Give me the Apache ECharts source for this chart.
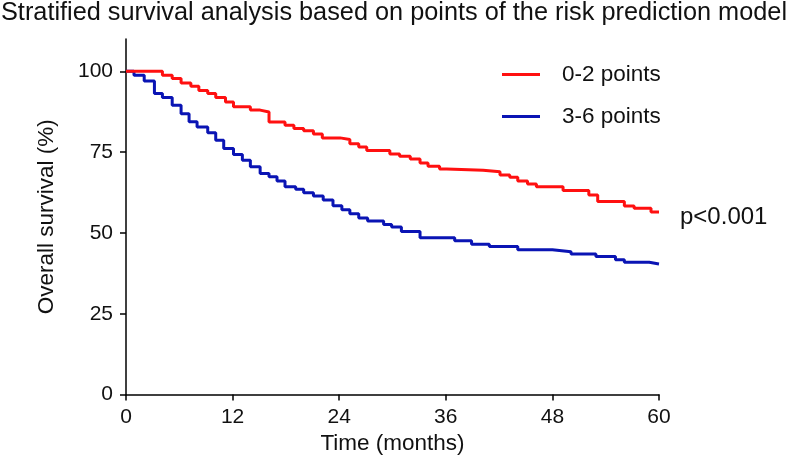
<!DOCTYPE html>
<html>
<head>
<meta charset="utf-8">
<script src="https://cdn.jsdelivr.net/npm/echarts@6/dist/echarts.min.js"></script>
<style>html,body{margin:0;padding:0;background:#fff}#c{width:788px;height:468px}</style>
</head>
<body>
<div id="c"></div>
<script>
var titleText = "Stratified survival analysis based on points of the risk prediction model";
var seriesNames = ["0-2 points", "3-6 points"];
var pValueText = "p<0.001";
var xTicks = [0, 12, 24, 36, 48, 60];
var yTicks = [0, 25, 50, 75, 100];

var lowTime = [0, 4.1, 5.2, 6.2, 7.3, 8.2, 9.2, 10.1, 11.2, 12.1, 14.0, 15.1, 16.1, 17.9, 18.9, 20.0, 21.1, 22.1, 24.1, 25.2, 26.2, 27.1, 29.7, 30.8, 32.0, 33.1, 34.0, 35.3, 36.1, 40.2, 42.1, 43.2, 44.1, 45.2, 46.2, 49.2, 52.1, 53.1, 56.1, 57.2, 59.1, 60];
var lowSurv = [100, 98.8, 97.8, 96.4, 95.4, 94.1, 93.1, 91.9, 90.5, 89.0, 88.0, 87.4, 84.3, 83.3, 82.3, 81.6, 80.6, 79.4, 78.9, 77.6, 76.6, 75.5, 74.4, 73.7, 72.9, 71.6, 70.6, 69.8, 69.4, 68.9, 67.9, 67.2, 66.1, 65.1, 64.3, 63.1, 61.7, 59.7, 58.3, 57.6, 56.5, 56.5];

var highTime = [0, 0.9, 2.05, 3.2, 4.1, 5.2, 6.2, 7.1, 8.0, 9.2, 10.1, 11.0, 12.1, 13.1, 14.0, 15.1, 16.1, 17.0, 17.9, 19.1, 20.0, 21.1, 22.2, 23.3, 24.3, 25.2, 26.2, 27.2, 29.0, 29.9, 31.0, 33.1, 37.0, 38.9, 40.9, 44.1, 48.0, 50.1, 52.9, 55.1, 56.1, 58.9, 60];
var highSurv = [100, 98.8, 97.0, 93.1, 91.9, 89.5, 86.9, 84.4, 82.8, 81.0, 78.7, 76.1, 74.3, 72.5, 70.5, 68.4, 67.4, 66.1, 64.3, 63.5, 62.4, 61.4, 60.2, 58.4, 57.2, 55.9, 54.6, 53.7, 52.6, 51.8, 50.4, 48.5, 47.6, 46.5, 45.8, 44.8, 44.2, 43.5, 42.7, 41.7, 40.9, 40.4, 40.4];

function pairs(t, s) { return t.map(function (v, i) { return [v, s[i]]; }); }

var font = "Liberation Sans, Arial, sans-serif";
var chart = echarts.init(document.getElementById('c'), null, {renderer: 'canvas'});
chart.setOption({
  backgroundColor: '#fff',
  animation: false,
  title: {
    text: titleText, left: 0, top: 0, padding: [1, 1],
    textStyle: {fontFamily: font, fontSize: 25.3, fontWeight: 'normal', color: '#111'}
  },
  legend: {
    orient: 'vertical', left: 502, top: 63, itemGap: 19, padding: 0,
    icon: 'rect', itemWidth: 38, itemHeight: 3,
    data: [seriesNames[0], seriesNames[1]],
    textStyle: {fontFamily: font, fontSize: 22.5, color: '#111', padding: [0, 0, 0, 17]}
  },
  grid: {left: 126, right: 129, top: 39, bottom: 73.5, outerBoundsMode: 'none', containLabel: false},
  xAxis: {
    type: 'value', min: 0, max: 60, interval: 12,
    name: 'Time (months)', nameLocation: 'middle', nameGap: 34,
    nameTextStyle: {fontFamily: font, fontSize: 22.5, color: '#111', verticalAlign: 'top'},
    axisLine: {lineStyle: {color: '#000', width: 1.5}},
    axisTick: {length: 6, lineStyle: {color: '#000', width: 1.5}},
    axisLabel: {fontFamily: font, fontSize: 21, color: '#111', margin: 12, customValues: xTicks},
    splitLine: {show: false}
  },
  yAxis: {
    type: 'value', min: 0, max: 110,
    name: 'Overall survival (%)', nameLocation: 'middle', nameGap: 68, nameRotate: 90,
    nameTextStyle: {fontFamily: font, fontSize: 22.5, color: '#111'},
    axisLine: {lineStyle: {color: '#000', width: 1.5}},
    axisTick: {length: 6, lineStyle: {color: '#000', width: 1.5}, customValues: yTicks},
    axisLabel: {fontFamily: font, fontSize: 21, color: '#111', margin: 13, customValues: yTicks},
    splitLine: {show: false}
  },
  graphic: [{
    type: 'text', left: 680, top: 205,
    style: {text: pValueText, fontFamily: font, fontSize: 24, fill: '#111'}
  }],
  series: [
    {
      name: seriesNames[1], type: 'line', step: 'end', showSymbol: false,
      data: pairs(highTime, highSurv),
      lineStyle: {color: '#0a14b4', width: 3}, itemStyle: {color: '#0a14b4'}
    },
    {
      name: seriesNames[0], type: 'line', step: 'end', showSymbol: false,
      data: pairs(lowTime, lowSurv),
      lineStyle: {color: '#ff1010', width: 3}, itemStyle: {color: '#ff1010'}
    }
  ]
});
</script>
</body>
</html>
